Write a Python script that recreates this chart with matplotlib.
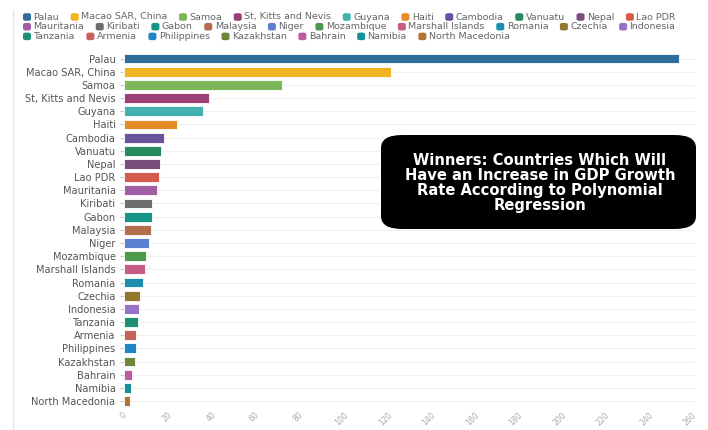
import matplotlib.pyplot as plt
from matplotlib.patches import FancyBboxPatch

countries = ["Palau", "Macao SAR, China", "Samoa", "St, Kitts and Nevis", "Guyana",
             "Haiti", "Cambodia", "Vanuatu", "Nepal", "Lao PDR", "Mauritania",
             "Kiribati", "Gabon", "Malaysia", "Niger", "Mozambique",
             "Marshall Islands", "Romania", "Czechia", "Indonesia", "Tanzania",
             "Armenia", "Philippines", "Kazakhstan", "Bahrain", "Namibia",
             "North Macedonia"]
growth = [255, 122.5, 72.6, 39, 36.1, 24.6, 18.3, 17.1, 16.7, 16.2, 15.3,
          12.8, 12.7, 12.4, 11.3, 10.0, 9.8, 8.6, 7.5, 7.0, 6.6,
          5.5, 5.4, 5.0, 3.7, 3.1, 2.9]
colors = ["#2F6E9B", "#F1B320", "#7CB85A", "#9C3F74", "#41B0AE",
          "#E68A25", "#6A529C", "#268C5E", "#7B4D7A", "#D55C4B", "#A25EA4",
          "#6E6E6E", "#179488", "#B36E4B", "#5A80D2", "#4F994D",
          "#C85C88", "#1B8EAE", "#93782F", "#9673C4", "#1E9072",
          "#C7605A", "#1E86C8", "#6A8838", "#BC5AA0", "#14929A",
          "#AF7338"]
xticks = list(range(0, 261, 20))
title = ("Winners: Countries Which Will\nHave an Increase in GDP Growth\n"
         "Rate According to Polynomial\nRegression")

plt.rcParams['font.family'] = ['DejaVu Sans']

fig = plt.figure(figsize=(7.08, 4.30), dpi=100)
ax = fig.add_axes([0.175, 0.052, 0.806, 0.827])

ypos = list(range(len(countries)))
ax.barh(ypos, growth, height=0.74, color=colors, edgecolor="white",
        linewidth=0.6, zorder=3)
ax.set_yticks(ypos)
ax.set_yticklabels(countries, fontsize=7.1, color="#555555")
ax.set_ylim(len(countries) - 0.5, -0.5)
ax.set_xlim(0, 262)
ax.set_xticks(xticks)
ax.set_xticklabels([str(t) for t in xticks], rotation=45, fontsize=5.6,
                   color="#aaaaaa", ha="center", va="top")
ax.tick_params(axis="y", length=3, color="#cccccc", pad=3)
ax.tick_params(axis="x", length=0, pad=2)
ax.grid(axis="y", color="#f0f0f0", linewidth=0.8, zorder=0)
for s in ax.spines.values():
    s.set_visible(False)

# frame edge on the left of the screenshot
fig.add_artist(plt.Line2D([13 / 708, 13 / 708], [0, 1 - 10 / 430],
                          color="#e6e6e6", linewidth=1))

# legend (plotly style, flowing rows)
rows = [countries[0:10], countries[10:20], countries[20:27]]
fig.canvas.draw()
renderer = fig.canvas.get_renderer()
idx = 0
for r, row in enumerate(rows):
    x = 23
    y = 17 + r * 9.7
    for name in row:
        fig.add_artist(FancyBboxPatch((x / 708, 1 - (y + 3.8) / 430), 8 / 708, 7.6 / 430,
                                      boxstyle="round,pad=0,rounding_size=0.004",
                                      transform=fig.transFigure,
                                      facecolor=colors[idx], edgecolor="none"))
        t = fig.text((x + 10.5) / 708, 1 - y / 430, name, fontsize=6.8,
                     color="#666666", va="center", ha="left")
        w = t.get_window_extent(renderer).width
        x += 10.5 + w + 11.5
        idx += 1

# annotation box
box = FancyBboxPatch((381 / 708, 1 - 229 / 430), 315 / 708, 94 / 430,
                     boxstyle="round,pad=0,rounding_size=0.03",
                     transform=fig.transFigure, facecolor="black",
                     edgecolor="none", zorder=5)
fig.add_artist(box)
fig.text(540 / 708, 1 - 183 / 430, title, color="white", fontsize=10.6,
         fontweight="bold", ha="center", va="center", linespacing=1.0,
         zorder=6)

fig.savefig("out.png", dpi=100)
